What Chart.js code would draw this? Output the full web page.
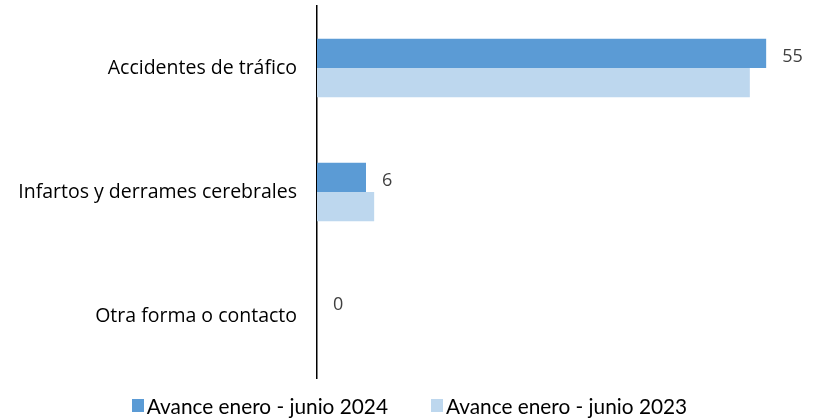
<!DOCTYPE html>
<html>
<head>
<meta charset="utf-8">
<script src="https://cdn.jsdelivr.net/npm/chart.js@4"></script>
<style>
  html, body { margin: 0; padding: 0; background: #fff; }
  #wrap { width: 819px; height: 418px; position: relative; }
  #legend { position: absolute; left: 0; width: 819px; top: 393px; display: flex; justify-content: center; gap: 43px; font-family: Lato, sans-serif; font-size: 20.8px; line-height: normal; color: #000; white-space: nowrap; }
  #legend .item { display: flex; align-items: center; flex-shrink: 0; }
  #legend .box { display: inline-block; width: 12px; height: 13px; margin-right: 3px; flex-shrink: 0; }
</style>
</head>
<body>
<div id="wrap">
  <canvas id="chart"></canvas>
  <div id="legend"></div>
</div>
<script>
// categorías y series
const categories = ["Accidentes de tráfico", "Infartos y derrames cerebrales", "Otra forma o contacto"];
const seriesNames = ["Avance enero - junio 2024", "Avance enero - junio 2023"];
const values2024 = [55, 6, 0];
const values2023 = [53, 7, 0];
const colors = ["#5B9BD5", "#BDD7EE"];

// etiquetas de valor solo para 2024
const valueLabels = {
    id: "valueLabels",
    afterDatasetsDraw(chart) {
        const ctx = chart.ctx;
        const meta = chart.getDatasetMeta(0);
        ctx.save();
        ctx.font = "18px 'Open Sans', sans-serif";
        ctx.fillStyle = "#404040";
        ctx.textAlign = "left";
        ctx.textBaseline = "middle";
        meta.data.forEach((bar, i) => {
            ctx.fillText(String(values2024[i]), bar.x + 16, bar.y + 3);
        });
        ctx.restore();
    }
};

new Chart(document.getElementById("chart"), {
    type: "bar",
    data: {
        labels: categories,
        datasets: [
            { label: seriesNames[0], data: values2024, backgroundColor: colors[0], categoryPercentage: 0.47, barPercentage: 1 },
            { label: seriesNames[1], data: values2023, backgroundColor: colors[1], categoryPercentage: 0.47, barPercentage: 1 }
        ]
    },
    options: {
        indexAxis: "y",
        responsive: true,
        maintainAspectRatio: false,
        animation: false,
        layout: { padding: { top: 6, right: 12, left: 0, bottom: 40 } },
        scales: {
            x: {
                display: false,
                min: 0,
                max: 60
            },
            y: {
                afterFit: function (scale) {
                    scale.width = 317;
                    scale.paddingTop = 0;
                    scale.paddingBottom = 0;
                },
                grid: { display: false, drawTicks: false },
                border: { display: true, color: "#000", width: 1.5 },
                ticks: {
                    padding: 20,
                    color: "#000",
                    font: { family: "'Open Sans', sans-serif", size: 19.5 }
                }
            }
        },
        plugins: {
            legend: { display: false },
            tooltip: { enabled: false }
        }
    },
    plugins: [valueLabels]
});

// leyenda en HTML
const legendEl = document.getElementById("legend");
seriesNames.forEach((name, i) => {
    const item = document.createElement("div");
    item.className = "item";
    item.innerHTML = '<span class="box" style="background:' + colors[i] + '"></span><span class="txt">' + name + '</span>';
    legendEl.appendChild(item);
});
</script>
</body>
</html>
